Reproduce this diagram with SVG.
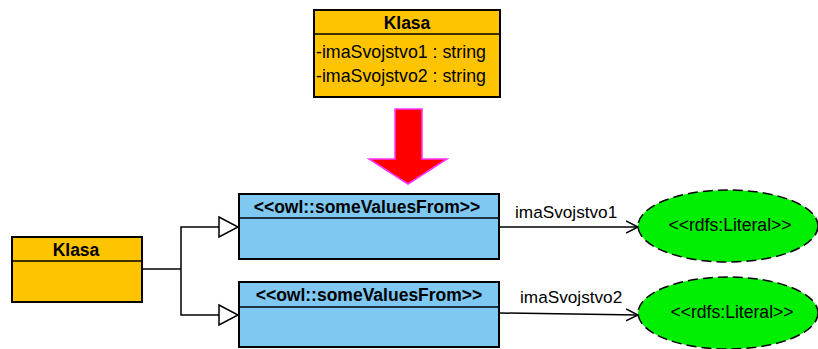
<svg xmlns="http://www.w3.org/2000/svg" width="818" height="349" viewBox="0 0 818 349">
<defs>
<style>
.cls{fill:#ffc400;stroke:#000;stroke-width:2}
.owl{fill:#7ec8f2;stroke:#000;stroke-width:2}
.lit{fill:#00ee00;stroke:#000;stroke-width:1.5;stroke-dasharray:10 5}
.ln{fill:none;stroke:#000;stroke-width:1.5}
.b{font-family:"Liberation Sans",Arial,sans-serif;font-weight:bold;font-size:17.5px;text-anchor:middle;fill:#000}
.t{font-family:"Liberation Sans",Arial,sans-serif;font-size:17.8px;fill:#000}
.l{font-family:"Liberation Sans",Arial,sans-serif;font-size:17.2px;fill:#000}
.e{font-family:"Liberation Sans",Arial,sans-serif;font-size:17.6px;fill:#000;text-anchor:middle}
</style>
<marker id="open" markerWidth="14" markerHeight="14" refX="12" refY="7" orient="auto" markerUnits="userSpaceOnUse">
<path d="M0,1 L12,7 L0,13" fill="none" stroke="#000" stroke-width="1.5"/>
</marker>
<marker id="gen" markerWidth="22" markerHeight="24" refX="20" refY="12" orient="auto" markerUnits="userSpaceOnUse">
<path d="M1,2 L20,12 L1,22 Z" fill="#fff" stroke="#000" stroke-width="1.5"/>
</marker>
</defs>
<g id="klasa-top">
<rect class="cls" x="314" y="10" width="186" height="87"/>
<line class="ln" x1="314" y1="34" x2="500" y2="34" stroke-width="2"/>
<text class="b" x="407" y="29">Klasa</text>
<text class="t" x="316" y="58">-imaSvojstvo1 : string</text>
<text class="t" x="316" y="82">-imaSvojstvo2 : string</text>
</g>
<g id="transform-arrow">
<path d="M395,109 L422,109 L422,159 L447,159 L408,184 L369,159 L395,159 Z" fill="#ff0000" stroke="#ff33ff" stroke-width="1.5"/>
</g>
<g id="klasa-left">
<rect class="cls" x="12" y="237" width="130" height="65"/>
<line class="ln" x1="12" y1="261" x2="142" y2="261" stroke-width="2"/>
<text class="b" x="76" y="256">Klasa</text>
</g>
<g id="some1">
<rect class="owl" x="239" y="194" width="260" height="65"/>
<line class="ln" x1="239" y1="218" x2="499" y2="218" stroke-width="2"/>
<text class="b" x="367" y="213" font-size="17.8">&lt;&lt;owl::someValuesFrom&gt;&gt;</text>
</g>
<g id="some2">
<rect class="owl" x="239" y="282" width="260" height="65"/>
<line class="ln" x1="239" y1="307" x2="499" y2="307" stroke-width="2"/>
<text class="b" x="369" y="301" font-size="17.8">&lt;&lt;owl::someValuesFrom&gt;&gt;</text>
</g>
<g id="literal1">
<ellipse class="lit" cx="728" cy="226" rx="90" ry="36"/>
<text class="e" x="730" y="226" dominant-baseline="middle">&lt;&lt;rdfs:Literal&gt;&gt;</text>
</g>
<g id="literal2">
<ellipse class="lit" cx="728" cy="313" rx="90" ry="36"/>
<text class="e" x="732" y="313" dominant-baseline="middle">&lt;&lt;rdfs:Literal&gt;&gt;</text>
</g>
<g id="connectors">
<path class="ln" d="M143,269 L181,269"/>
<path class="ln" d="M181,269 L181,227 L238,227" marker-end="url(#gen)"/>
<path class="ln" d="M181,269 L181,315 L238,315" marker-end="url(#gen)"/>
<path class="ln" d="M500,227 L638,227" marker-end="url(#open)"/>
<path class="ln" d="M500,313 L638,315" marker-end="url(#open)"/>
<text class="l" x="515" y="218">imaSvojstvo1</text>
<text class="l" x="520" y="303">imaSvojstvo2</text>
</g>
</svg>
